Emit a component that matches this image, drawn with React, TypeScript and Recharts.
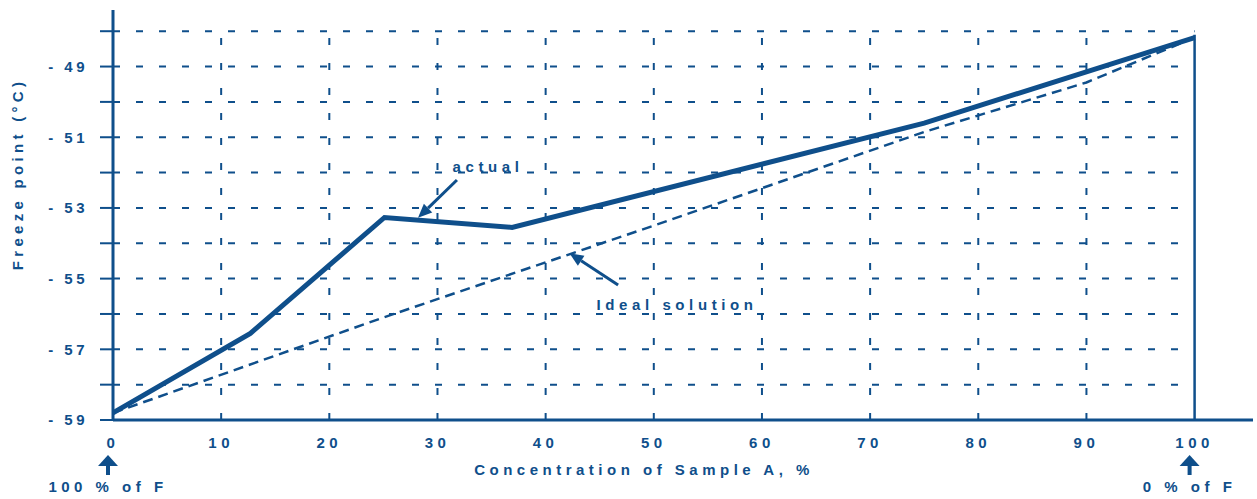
import { LineChart, Line, XAxis, YAxis, ReferenceLine, ReferenceDot } from 'recharts'

const INK = '#0f4f8b'
const FONT = '"Liberation Sans", Arial, sans-serif'

// actual freeze point curve
const actualConc = [0, 12.7, 25.1, 36.9, 75, 100]
const actualTemp = [-58.8, -56.55, -53.27, -53.55, -50.6, -48.18]

// ideal solution curve
const idealConc = [0, 25, 50, 75, 90, 100]
const idealTemp = [-58.8, -56.1, -53.5, -50.85, -49.45, -48.18]

const xTicks = [0, 10, 20, 30, 40, 50, 60, 70, 80, 90, 100]
const yTicks = [-59, -58, -57, -56, -55, -54, -53, -52, -51, -50, -49, -48]
const gridX = [10, 20, 30, 40, 50, 60, 70, 80, 90]
const gridY = [-58, -57, -56, -55, -54, -53, -52, -51, -50, -49, -48]

// captions under the end ticks
const endLabels: Record<number, string> = { 0: '100 % of F', 100: '0 % of F' }

// callouts: arrow start / tip and text anchor, in data units
const arrows = [
  { from: { x: 31.8, y: -52.21 }, to: { x: 28.2, y: -53.28 } },
  { from: { x: 46.7, y: -55.18 }, to: { x: 42.2, y: -54.28 } },
]
const notes = [
  { x: 31.4, y: -51.98, text: 'actual' },
  { x: 44.7, y: -55.89, text: 'Ideal solution' },
]

const actualData = actualConc.map((c, i) => ({ conc: c, temp: actualTemp[i] }))
const idealData = idealConc.map((c, i) => ({ conc: c, temp: idealTemp[i] }))

const textStyle = { fontFamily: FONT, fontWeight: 700, fontSize: 15, fill: INK }

const XTick = (props: any) => {
  const { x, y, payload } = props
  const v = payload.value
  const cap = endLabels[v]
  return (
    <g>
      <text x={x} y={y} dy={18} textAnchor="middle" letterSpacing={4.5} {...textStyle}>
        {v}
      </text>
      {cap && (
        <g>
          <polygon points={`${x - 15},${y + 36} ${x - 5},${y + 25} ${x + 5},${y + 36}`} fill={INK} />
          <rect x={x - 7} y={y + 35} width={4} height={10} fill={INK} />
          <text x={x - 5} y={y + 62} textAnchor="middle" letterSpacing={4.5} {...textStyle}>
            {cap}
          </text>
        </g>
      )}
    </g>
  )
}

const Arrow = (p: any) => {
  const { x1, y1, x2, y2 } = p
  const dx = x2 - x1
  const dy = y2 - y1
  const len = Math.sqrt(dx * dx + dy * dy)
  const ux = dx / len
  const uy = dy / len
  const hl = 14
  const hw = 6
  const bx = x2 - ux * hl
  const by = y2 - uy * hl
  return (
    <g>
      <line x1={x1} y1={y1} x2={bx} y2={by} stroke={INK} strokeWidth={3} />
      <polygon
        points={`${x2},${y2} ${bx - uy * hw},${by + ux * hw} ${bx + uy * hw},${by - ux * hw}`}
        fill={INK}
      />
    </g>
  )
}

const Note = (text: string) => (p: any) => (
  <text x={p.cx} y={p.cy} letterSpacing={4.6} {...textStyle}>
    {text}
  </text>
)

const yTitle = () => (
  <text transform="translate(23, 174) rotate(-90)" textAnchor="middle" letterSpacing={4.3} {...textStyle}>
    Freeze point (°C)
  </text>
)

const xTitle = () => (
  <text x={644} y={475} textAnchor="middle" letterSpacing={4.5} {...textStyle}>
    Concentration of Sample A, %
  </text>
)

export default function App() {
  return (
    <div style={{ position: 'absolute', left: 0, top: 0, background: '#fff' }}>
      <LineChart width={1257} height={499} margin={{ top: 10, right: 4, bottom: 0, left: 0 }}>
        <XAxis
          type="number"
          dataKey="conc"
          domain={[0, 105.4]}
          ticks={xTicks}
          allowDataOverflow
          height={79}
          tickLine={false}
          tickSize={0}
          tickMargin={10}
          tick={<XTick />}
          axisLine={{ stroke: INK, strokeWidth: 3 }}
          label={xTitle}
        />
        <YAxis
          type="number"
          dataKey="temp"
          domain={[-59, -47.4]}
          ticks={yTicks}
          allowDataOverflow
          width={113}
          tickSize={13}
          tickMargin={12}
          tickLine={{ stroke: INK, strokeWidth: 2 }}
          axisLine={{ stroke: INK, strokeWidth: 3 }}
          tick={{ ...textStyle, letterSpacing: 3.5 }}
          tickFormatter={(v: number) => (v % 2 !== 0 ? `- ${Math.abs(v)}` : '')}
          label={yTitle}
        />

        {gridY.map(v => (
          <ReferenceLine
            key={`gy${v}`}
            segment={[{ x: 0, y: v }, { x: 100, y: v }]}
            stroke={INK}
            strokeWidth={2}
            strokeDasharray="7 16"
          />
        ))}
        {gridX.map(v => (
          <ReferenceLine
            key={`gx${v}`}
            segment={[{ x: v, y: -59 }, { x: v, y: -48 }]}
            stroke={INK}
            strokeWidth={2}
            strokeDasharray="7 18"
          />
        ))}
        <ReferenceLine
          segment={[{ x: 100, y: -59 }, { x: 100, y: -48.1 }]}
          stroke={INK}
          strokeWidth={2.5}
        />

        <Line
          data={idealData}
          dataKey="temp"
          type="linear"
          stroke={INK}
          strokeWidth={2.5}
          strokeDasharray="10 6"
          dot={false}
          isAnimationActive={false}
        />
        <Line
          data={actualData}
          dataKey="temp"
          type="linear"
          stroke={INK}
          strokeWidth={5}
          dot={false}
          isAnimationActive={false}
        />

        {arrows.map((a, i) => (
          <ReferenceLine key={`ar${i}`} segment={[a.from, a.to]} shape={(p: any) => <Arrow {...p} />} />
        ))}
        {notes.map(n => (
          <ReferenceDot key={n.text} x={n.x} y={n.y} r={0} shape={Note(n.text)} />
        ))}
      </LineChart>
    </div>
  )
}
